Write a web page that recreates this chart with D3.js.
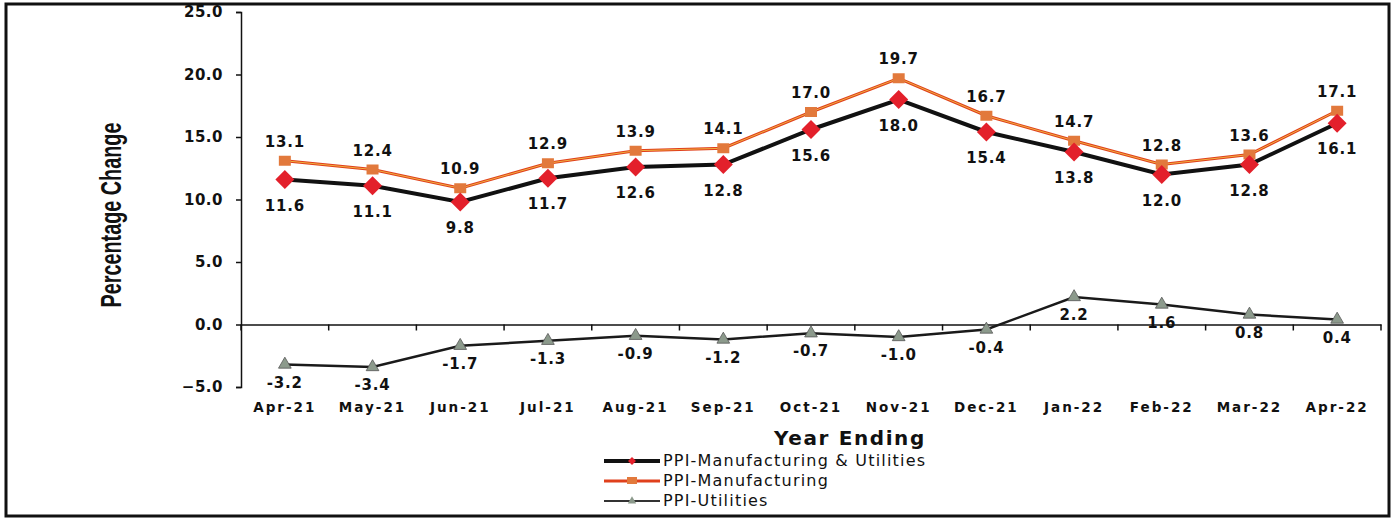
<!DOCTYPE html>
<head>
  <meta charset="utf-8">
<style>
body, html {
  margin: 0;
  padding: 0;
  background: #fff;
}
svg text {
  font-family: "DejaVu Sans", Arial, sans-serif;
}
.lbl {
  font-weight: bold;
  font-size: 15px;
  letter-spacing: 0.8px;
  fill: #111;
}
</style>
</head>
<body>
<div id="chart"></div>
<script src="https://d3js.org/d3.v7.min.js"></script>
<script>

var months = ["Apr-21", "May-21", "Jun-21", "Jul-21", "Aug-21", "Sep-21", "Oct-21",
              "Nov-21", "Dec-21", "Jan-22", "Feb-22", "Mar-22", "Apr-22"];
var mfgUtil = [11.6, 11.1, 9.8, 11.7, 12.6, 12.8, 15.6, 18.0, 15.4, 13.8, 12.0, 12.8, 16.1];
var mfg = [13.1, 12.4, 10.9, 12.9, 13.9, 14.1, 17.0, 19.7, 16.7, 14.7, 12.8, 13.6, 17.1];
var util = [-3.2, -3.4, -1.7, -1.3, -0.9, -1.2, -0.7, -1.0, -0.4, 2.2, 1.6, 0.8, 0.4];
var yTicks = [-5, 0, 5, 10, 15, 20, 25];
var seriesNames = ["PPI-Manufacturing & Utilities", "PPI-Manufacturing", "PPI-Utilities"];

var width = 1394, height = 522;

var svg = d3.select("#chart").append("svg")
    .attr("width", width)
    .attr("height", height);

// scanned frame
svg.append("rect")
    .attr("x", 6).attr("y", 4)
    .attr("width", 1383).attr("height", 512)
    .attr("fill", "none")
    .attr("stroke", "#111")
    .attr("stroke-width", 3);

var x = d3.scaleBand().domain(months).range([241, 1381]).padding(0);
var y = d3.scaleLinear().domain([-5, 25]).range([387, 12]);
var cx = function(i) { return x(months[i]) + x.bandwidth() / 2; };

// y axis
var yAxis = svg.append("g")
    .attr("transform", "translate(241,0)")
    .call(d3.axisLeft(y).tickValues(yTicks).tickSize(5).tickFormat(d3.format(".1f")));
yAxis.select(".domain").attr("stroke", "#111").attr("stroke-width", 1.5);
yAxis.selectAll(".tick line").attr("stroke", "#111").attr("stroke-width", 1.5);
yAxis.selectAll("text")
    .attr("x", -18)
    .style("font-size", "15px")
    .style("font-weight", "bold")
    .style("letter-spacing", "0.5px")
    .attr("fill", "#111");

// x axis on the zero line
var xAxis = svg.append("g")
    .attr("transform", "translate(0," + y(0) + ")")
    .call(d3.axisBottom(x).tickSize(0).tickFormat(""));
xAxis.select(".domain").attr("stroke", "#111").attr("stroke-width", 1.5);
svg.append("g").selectAll("line")
    .data(d3.range(months.length + 1))
  .enter().append("line")
    .attr("x1", function(i) { return 241 + i * x.bandwidth(); })
    .attr("x2", function(i) { return 241 + i * x.bandwidth(); })
    .attr("y1", y(0))
    .attr("y2", y(0) + 6)
    .attr("stroke", "#111")
    .attr("stroke-width", 1.5);

svg.append("g").selectAll("text")
    .data(months)
  .enter().append("text")
    .attr("class", "lbl")
    .attr("x", function(d, i) { return cx(i); })
    .attr("y", 412)
    .attr("text-anchor", "middle")
    .style("font-size", "13.5px")
    .style("letter-spacing", "2px")
    .text(function(d) { return d; });

// titles
svg.append("text")
    .attr("transform", "translate(121,215) rotate(-90) scale(0.9,1.35)")
    .attr("text-anchor", "middle")
    .style("font-family", "'Liberation Sans Narrow', 'Arial Narrow', sans-serif")
    .style("font-size", "22px")
    .style("font-weight", "bold")
    .attr("fill", "#111")
    .text("Percentage Change");

svg.append("text")
    .attr("x", 850).attr("y", 445)
    .attr("text-anchor", "middle")
    .style("font-size", "20px")
    .style("font-weight", "bold")
    .style("letter-spacing", "1.6px")
    .attr("fill", "#111")
    .text("Year Ending");

var line = function(vals) {
  return d3.line()
    .x(function(d, i) { return cx(i); })
    .y(function(d) { return y(d); })(vals);
};

// utilities
svg.append("path")
    .attr("d", line(util))
    .attr("fill", "none")
    .attr("stroke", "#1a1a1a")
    .attr("stroke-width", 2.5);
svg.append("g").selectAll("path")
    .data(util)
  .enter().append("path")
    .attr("d", d3.symbol().type(d3.symbolTriangle).size(70))
    .attr("transform", function(d, i) { return "translate(" + cx(i) + "," + y(d) + ")"; })
    .attr("fill", "#8c9a8c")
    .attr("stroke", "#555")
    .attr("stroke-width", 0.8);

// manufacturing
svg.append("path")
    .attr("d", line(mfg))
    .attr("fill", "none")
    .attr("stroke", "#e0401c")
    .attr("stroke-width", 3);
svg.append("path")
    .attr("d", line(mfg))
    .attr("fill", "none")
    .attr("stroke", "#f0b040")
    .attr("stroke-width", 1);
svg.append("g").selectAll("rect")
    .data(mfg)
  .enter().append("rect")
    .attr("x", function(d, i) { return cx(i) - 6; })
    .attr("y", function(d) { return y(d) - 5; })
    .attr("width", 12).attr("height", 10)
    .attr("fill", "#e2793c");

// manufacturing & utilities
svg.append("path")
    .attr("d", line(mfgUtil))
    .attr("fill", "none")
    .attr("stroke", "#111")
    .attr("stroke-width", 4);
svg.append("g").selectAll("path")
    .data(mfgUtil)
  .enter().append("path")
    .attr("d", d3.symbol().type(d3.symbolDiamond2).size(230))
    .attr("transform", function(d, i) { return "translate(" + cx(i) + "," + y(d) + ")"; })
    .attr("fill", "#e3202b");

// data labels
svg.append("g").selectAll("text")
    .data(mfg)
  .enter().append("text")
    .attr("class", "lbl")
    .attr("x", function(d, i) { return cx(i); })
    .attr("y", function(d) { return y(d) - 14; })
    .attr("text-anchor", "middle")
    .text(function(d) { return d.toFixed(1); });
svg.append("g").selectAll("text")
    .data(mfgUtil)
  .enter().append("text")
    .attr("class", "lbl")
    .attr("x", function(d, i) { return cx(i); })
    .attr("y", function(d) { return y(d) + 31; })
    .attr("text-anchor", "middle")
    .text(function(d) { return d.toFixed(1); });
svg.append("g").selectAll("text")
    .data(util)
  .enter().append("text")
    .attr("class", "lbl")
    .attr("x", function(d, i) { return cx(i); })
    .attr("y", function(d) { return y(d) + 23; })
    .attr("text-anchor", "middle")
    .text(function(d) { return d.toFixed(1); });

// legend
var lg = svg.append("g").attr("transform", "translate(604,461)");
var rows = [
  {stroke: "#111", w: 4},
  {stroke: "#e0401c", w: 3},
  {stroke: "#333", w: 2}
];
rows.forEach(function(r, i) {
  var g = lg.append("g").attr("transform", "translate(0," + (i * 20) + ")");
  g.append("line")
    .attr("x1", 0).attr("x2", 56)
    .attr("stroke", r.stroke).attr("stroke-width", r.w);
  if (i === 0) {
    g.append("path").attr("d", d3.symbol().type(d3.symbolDiamond2).size(40))
      .attr("transform", "translate(28,0)").attr("fill", "#e3202b");
  } else if (i === 1) {
    g.append("rect").attr("x", 23).attr("y", -4).attr("width", 10).attr("height", 7)
      .attr("fill", "#e2793c");
  } else {
    g.append("path").attr("d", d3.symbol().type(d3.symbolTriangle).size(30))
      .attr("transform", "translate(28,0)").attr("fill", "#8c9a8c");
  }
  g.append("text")
    .attr("x", 59).attr("y", 5)
    .style("font-size", "16px")
    .style("letter-spacing", "1.2px")
    .attr("fill", "#111")
    .text(seriesNames[i]);
});

</script>
</body>
